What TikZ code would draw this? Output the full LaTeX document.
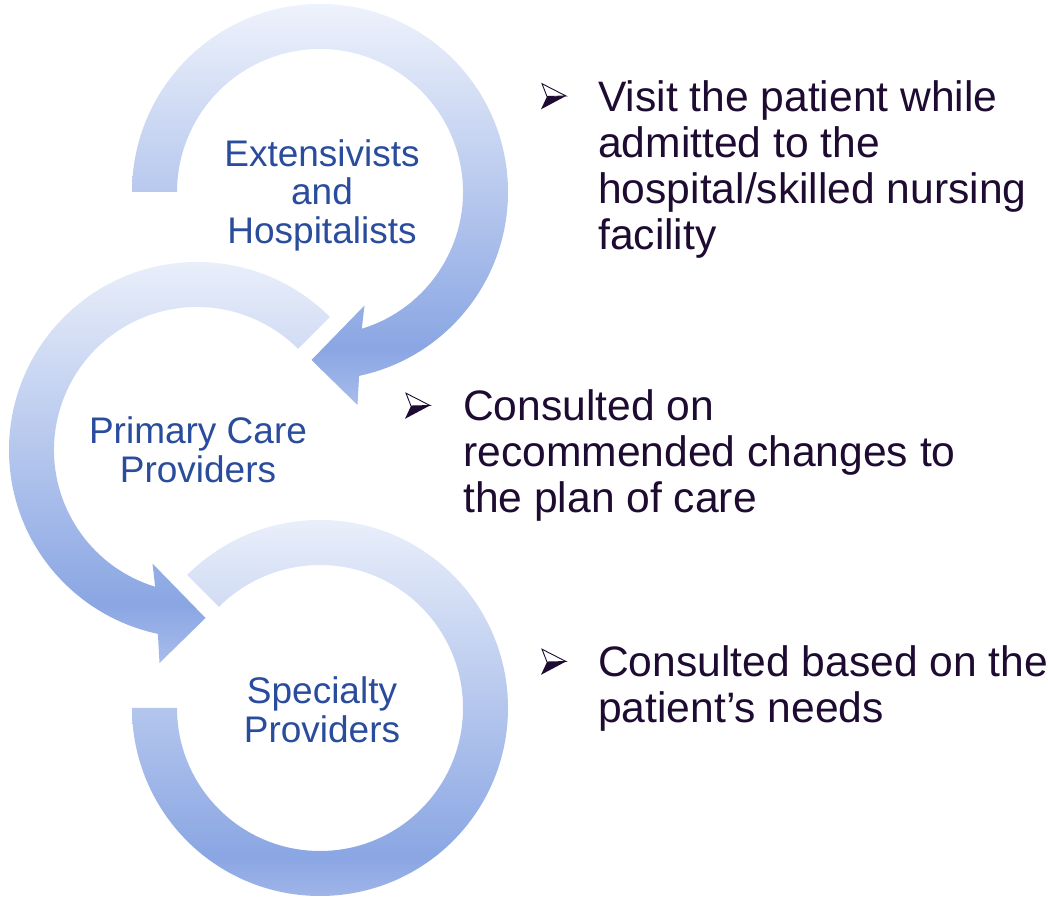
\documentclass[tikz,border=0pt]{standalone}
\usepackage{fontspec}
\setmainfont{Liberation Sans}

\definecolor{ringTop}{HTML}{EEF2FB}
\definecolor{ringDeep}{HTML}{8AA6E3}
\definecolor{ringEdge}{HTML}{A9BCEC}
\definecolor{labelBlue}{HTML}{2A4C9C}
\definecolor{noteInk}{HTML}{1E0B32}

% vertical fill of the ring arrows: pale at the top, deepest near the bottom
\pgfdeclareverticalshading{ringshade}{100bp}{color(0bp)=(ringEdge); color(25bp)=(ringEdge); color(32bp)=(ringDeep); color(75bp)=(ringTop); color(100bp)=(ringTop)}

\tikzset{
  ring/.style={shading=ringshade},
  ringlabel/.style={text=labelBlue, inner sep=0pt, anchor=base, font=\fontsize{37}{38}\selectfont},
  note/.style={text=noteInk, inner sep=0pt, anchor=base west, font=\fontsize{42.6}{46}\selectfont},
  bulletarrow/.pic={
    \fill[noteInk] (6,0) -- (25,0.5) -- (0,-12.8) -- cycle;
    \filldraw[fill=white, draw=noteInk, line width=0.9pt, line join=miter] (1,12.8) -- (25,0.5) -- (6,0) -- cycle;
  }
}

\begin{document}
\begin{tikzpicture}[x=1pt, y=1pt]
  \useasboundingbox (0,0) rectangle (1048,899);
  \fill[white] (0,0) rectangle (1048,899);

  % upper ring: clockwise from the left, head at the bottom
  \begin{scope}[shift={(320,707)}]
    \shade[ring] (180:143) -- (180:188) arc[start angle=180, end angle=-78, radius=188]
      -- (37.5,-213) -- (-8.5,-168) -- (44.5,-113.5) -- (-73:143)
      arc[start angle=-73, end angle=180, radius=143] -- cycle;
  \end{scope}

  % middle ring: counter-clockwise from the upper right, head at the bottom
  \begin{scope}[shift={(197,449)}]
    \shade[ring] (45:143) -- (45:188) arc[start angle=45, end angle=258, radius=188]
      -- (-37.5,-213) -- (8.5,-168) -- (-44.5,-113.5) -- (253:143)
      arc[start angle=253, end angle=45, radius=143] -- cycle;
  \end{scope}

  % lower ring: clockwise from the upper left, plain end on the left
  \begin{scope}[shift={(320,191)}]
    \shade[ring] (135:143) -- (135:188) arc[start angle=135, end angle=-180, radius=188]
      -- (180:143) arc[start angle=-180, end angle=135, radius=143] -- cycle;
  \end{scope}

  % ring labels
  \node[ringlabel] (ext) at (322,732.3)
    {\begin{tabular}[t]{@{}c@{}}Extensivists\\and\\Hospitalists\end{tabular}};
  \node[ringlabel] (pcp) at (198,455)
    {\begin{tabular}[t]{@{}c@{}}Primary Care\\Providers\end{tabular}};
  \node[ringlabel] (spec) at (322,195)
    {\begin{tabular}[t]{@{}c@{}}Specialty\\Providers\end{tabular}};

  % notes with arrowhead bullets
  \pic (b1) at (541,802.5) {bulletarrow};
  \node[note] (note1) at (598,787)
    {\begin{tabular}[t]{@{}l@{}}Visit the patient while\\admitted to the\\hospital/skilled nursing\\facility\end{tabular}};

  \pic (b2) at (405,493) {bulletarrow};
  \node[note] (note2) at (463,478)
    {\begin{tabular}[t]{@{}l@{}}Consulted on\\recommended changes to\\the plan of care\end{tabular}};

  \pic (b3) at (541,237) {bulletarrow};
  \node[note] (note3) at (598,222)
    {\begin{tabular}[t]{@{}l@{}}Consulted based on the\\patient’s needs\end{tabular}};
\end{tikzpicture}
\end{document}
